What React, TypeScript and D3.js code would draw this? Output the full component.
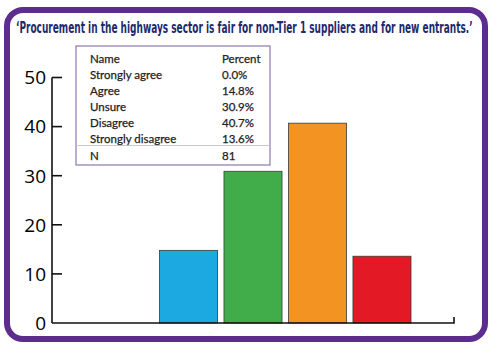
import { useRef, useEffect } from "react";
import * as d3 from "d3";

const categories = ["Strongly agree", "Agree", "Unsure", "Disagree", "Strongly disagree"];
const percents = [0.0, 14.8, 30.9, 40.7, 13.6];
const barColors = ["#7f7f7f", "#1ca9e2", "#40ad4a", "#f39322", "#e31a25"];
const yTicks = [0, 10, 20, 30, 40, 50];
const tableHeader = ["Name", "Percent"];
const respondents = 81;
const title = "\u2018Procurement in the highways sector is fair for non-Tier 1 suppliers and for new entrants.\u2019";

export default function App() {
  const svgRef = useRef(null);

  useEffect(() => {
    const svg = d3.select(svgRef.current);
    svg.selectAll("*").remove();

    const W = 500, H = 352;
    svg.attr("width", W).attr("height", H);

    svg.append("rect").attr("width", W).attr("height", H).attr("fill", "#fff");

    // purple frame
    svg.append("rect")
      .attr("x", 7).attr("y", 10)
      .attr("width", 478).attr("height", 329)
      .attr("rx", 16)
      .attr("fill", "#fff")
      .attr("stroke", "#5c2d8f")
      .attr("stroke-width", 6);

    // title: squeezed horizontally to fit the frame like the condensed original
    const titleText = svg.append("text")
      .attr("x", 0).attr("y", 0)
      .attr("font-family", "'Liberation Sans Narrow', 'DejaVu Sans Condensed', sans-serif")
      .attr("font-weight", "bold")
      .attr("font-size", "16px")
      .style("fill", "#1d2a6c")
      .text(title);
    const natural = (titleText.node() as SVGTextElement).getComputedTextLength() || 457;
    titleText.attr("transform", `translate(16,33) scale(${457 / natural},1)`);

    const y = d3.scaleLinear().domain([0, 50]).range([323, 77.5]);
    const x = d3.scaleBand().domain(categories).range([95, 411]).paddingInner(0.1).paddingOuter(0);

    const axisX = 52;

    // bars
    svg.append("g")
      .selectAll("rect")
      .data(categories)
      .join("rect")
      .attr("x", d => x(d)!)
      .attr("y", (d, i) => y(percents[i]))
      .attr("width", x.bandwidth())
      .attr("height", (d, i) => y(0) - y(percents[i]))
      .style("fill", (d, i) => barColors[i])
      .attr("stroke", "#3a3a3a")
      .attr("stroke-width", 0.8)
      .attr("display", (d, i) => percents[i] > 0 ? null : "none");

    // y axis
    const ga = svg.append("g").attr("stroke", "#111").attr("stroke-width", 1.6).attr("fill", "none");
    ga.append("line").attr("x1", axisX).attr("x2", axisX).attr("y1", y(50)).attr("y2", y(0));
    ga.append("path").attr("d", `M${axisX},${y(0)}H454V${y(0) - 6}`);
    ga.selectAll("line.tick")
      .data(yTicks.filter(t => t > 0))
      .join("line")
      .attr("class", "tick")
      .attr("x1", axisX).attr("x2", axisX + 10)
      .attr("y1", d => y(d)).attr("y2", d => y(d));

    svg.append("g")
      .selectAll("text")
      .data(yTicks)
      .join("text")
      .attr("x", 46)
      .attr("y", d => y(d))
      .attr("dy", "0.36em")
      .attr("text-anchor", "end")
      .attr("font-family", "'Open Sans', sans-serif")
      .attr("font-size", "19px")
      .style("fill", "#000")
      .text(d => d);

    // table
    const tX = 76, tY = 46, tW = 194, tH = 119;
    const col1 = 90, col2 = 222;
    const rowY = d3.scaleLinear().domain([0, 6]).range([59, 155.5]);

    svg.append("rect")
      .attr("x", tX).attr("y", tY).attr("width", tW).attr("height", tH)
      .attr("fill", "#fff")
      .attr("stroke", "#8a78a8")
      .attr("stroke-width", 1.2);
    svg.append("line")
      .attr("x1", tX).attr("x2", tX + tW)
      .attr("y1", 145.5).attr("y2", 145.5)
      .attr("stroke", "#c8c8c8").attr("stroke-width", 1);

    const tg = svg.append("g")
      .attr("font-family", "Lato, sans-serif")
      .attr("font-size", "11.5px")
      .style("fill", "#222")
      .style("stroke", "#222")
      .style("stroke-width", 0.25);

    const rows = [
      tableHeader,
      ...categories.map((c, i) => [c, percents[i].toFixed(1) + "%"]),
      ["N", String(respondents)],
    ];
    rows.forEach((r, i) => {
      tg.append("text").attr("x", col1).attr("y", rowY(i)).attr("dy", "0.35em").text(r[0]);
      tg.append("text").attr("x", col2).attr("y", rowY(i)).attr("dy", "0.35em").text(r[1]);
    });
  }, []);

  return (
    <svg ref={svgRef} style={{ position: "absolute", left: 0, top: 0 }}></svg>
  );
}
